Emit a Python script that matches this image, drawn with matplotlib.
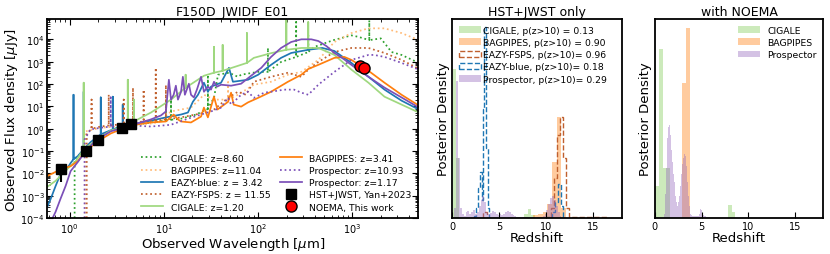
import matplotlib.pyplot as plt
from matplotlib.ticker import LogLocator, NullFormatter
from matplotlib.patches import Patch
import numpy as np

# SED model curves: (wavelength [um], flux [uJy])
# emission lines are written as (lam, cont), (lam, peak), (lam, cont)
cigale_hz = [(1.13, 1e-4), (1.13, 0.043), (1.22, 0.059), (1.48, 0.12), (1.98, 0.37), (2.73, 0.83),
             (3.49, 1.25), (5.0, 1.5), (7.3, 1.9), (10.5, 2.3), (10.5, 15), (10.5, 2.3), (11.9, 2.5),
             (11.9, 20), (11.9, 2.5), (15.2, 2.8), (22, 4.3), (28, 7.2), (29.3, 7.5), (29.3, 210),
             (29.3, 8), (34, 24), (37.5, 260), (49, 320), (61, 210), (66, 260), (100, 350), (127, 350),
             (127, 4100), (127, 350), (175, 970), (253, 1630), (253, 5.9e4), (253, 1630), (340, 2700),
             (340, 1.5e4), (340, 2700), (390, 4500), (630, 9200), (975, 1.5e4), (1150, 1.3e4),
             (1510, 9200), (1510, 7e4), (1510, 9200), (2000, 1.1e4), (2600, 2700), (3320, 2000),
             (5060, 880)]
bagpipes_hz = [(1.46, 1e-4), (1.46, 0.75), (2.14, 1.1), (4.45, 1.4), (7.3, 1.7), (9.0, 2.0), (11.9, 5.9),
               (19.4, 8.8), (26.6, 33), (34, 20), (48, 20), (48, 120), (48, 20), (61, 33), (90, 93),
               (137, 126), (207, 260), (287, 350), (435, 1200), (644, 7600), (975, 1.9e4),
               (1480, 3.1e4), (2190, 3.1e4), (3320, 1.9e4), (5060, 9200)]
eazy_blue = [(0.58, 3.2e-4), (0.63, 7.2e-4), (0.71, 2.7e-3), (0.80, 9.3e-3), (0.84, 0.019), (0.906, 0.0126),
             (1.025, 0.029), (1.1, 0.043), (1.1, 33), (1.1, 0.043), (1.22, 0.059), (1.41, 0.12),
             (1.41, 45), (1.41, 0.12), (1.67, 0.25), (2.14, 0.56), (2.14, 25), (2.14, 0.56), (2.87, 0.93),
             (2.87, 27), (2.87, 0.93), (3.66, 1.27), (3.66, 12), (3.66, 1.27), (5.0, 1.7), (7.3, 2.3),
             (10.5, 3.2), (15.2, 4.3), (18, 5.3), (20.3, 16), (23, 33), (26.6, 114), (29.3, 45),
             (31.6, 76), (40.4, 114), (49, 530), (54, 126), (78, 155), (100, 260), (137, 720),
             (175, 1480), (224, 2450), (340, 3400), (480, 4100), (644, 3000), (975, 880), (1480, 210),
             (2190, 56), (3320, 18), (5060, 7.2)]
eazy_fsps = [(1.52, 1e-4), (1.52, 0.55), (1.67, 0.93), (1.71, 0.95), (1.71, 20), (1.71, 1.0), (2.14, 1.25),
             (2.6, 1.4), (2.6, 33), (2.6, 1.4), (3.16, 1.5), (3.75, 1.7), (3.75, 20), (3.75, 1.7),
             (4.7, 1.9), (4.7, 68), (4.7, 1.9), (6.1, 2.1), (6.1, 56), (6.1, 2.1), (8.2, 2.3), (8.2, 530),
             (8.2, 2.3), (10.5, 2.6), (10.5, 90), (10.5, 2.6), (15.2, 3.2), (24.8, 4.8), (34, 7.2),
             (48, 24), (61, 45), (74, 33), (90, 126), (137, 210), (207, 320), (287, 210), (340, 440),
             (435, 970), (644, 2700), (975, 4100), (1480, 4100), (2190, 2450), (3320, 1200),
             (5060, 480)]
cigale_lz = [(0.58, 2.5e-3), (0.71, 4.6e-3), (0.95, 0.016), (1.16, 0.035), (1.41, 0.12), (1.41, 114),
             (1.41, 0.12), (1.67, 0.2), (1.98, 0.33), (2.73, 0.83), (3.49, 1.1), (4.14, 1.7), (4.14, 155),
             (4.14, 1.7), (4.8, 2.1), (4.8, 20), (4.8, 2.1), (7.3, 5.3), (11.9, 20), (17, 68), (17, 260),
             (17, 68), (26.6, 234), (34, 320), (34, 4600), (34, 320), (42, 390), (42, 5600), (42, 390),
             (61, 650), (76, 880), (76, 1.9e4), (76, 880), (90, 1480), (137, 2400), (199, 3400),
             (199, 1.2e5), (199, 3400), (287, 4100), (340, 4100), (340, 5.9e4), (340, 4100), (435, 4100),
             (644, 2000), (975, 440), (1480, 114), (2190, 27), (3320, 12), (5060, 5.3)]
bagpipes_lz = [(0.58, 7.6e-3), (0.80, 0.015), (1.025, 0.021), (1.22, 0.035), (1.48, 0.098), (1.98, 0.27),
               (2.73, 0.61), (3.49, 0.93), (4.8, 1.5), (7.3, 1.9), (10.5, 2.1), (12.7, 4.3), (14.1, 2.6),
               (15.2, 2.1), (19.4, 1.9), (24.8, 3.5), (26.6, 8.8), (29.3, 3.2), (34, 27), (37, 7.2),
               (48, 16), (51.6, 41), (55, 12), (66, 9.7), (78, 15), (100, 24), (137, 45), (207, 126),
               (287, 260), (340, 470), (435, 720), (644, 1480), (820, 1630), (975, 1200), (1480, 390),
               (2190, 114), (3320, 33), (5060, 10.8)]
prosp_hz = [(1.44, 1e-4), (1.44, 0.33), (1.67, 0.93), (2.14, 1.1), (2.73, 1.25), (2.73, 25), (2.73, 1.25),
            (4.45, 1.4), (7.3, 1.25), (11.9, 1.5), (18, 2.8), (24.8, 4.3), (31.6, 5.9), (40.4, 8.8),
            (48, 24), (51.6, 12), (66, 33), (78, 45), (90, 24), (116, 41), (137, 45), (189, 56),
            (240, 56), (287, 41), (340, 33), (435, 93), (644, 350), (975, 1200), (1480, 2000),
            (1700, 2000), (2190, 1630), (3320, 880), (5060, 440)]
prosp_lz = [(0.66, 1e-4), (0.71, 1.9e-4), (0.80, 7.2e-4), (0.906, 2.7e-3), (1.025, 0.0126), (1.22, 0.032),
            (1.48, 0.098), (1.89, 0.30), (2.73, 0.76), (4.45, 1.4), (7.28, 2.6), (9.3, 3.9), (10.5, 5.9),
            (11.3, 155), (11.9, 20), (12.7, 33), (13.4, 84), (14.1, 20), (15.2, 45), (15.9, 210),
            (16.7, 33), (17.5, 56), (18.4, 103), (19.4, 33), (20.8, 25), (22.4, 56), (24.8, 210),
            (26.6, 45), (29.3, 76), (31.6, 56), (34, 126), (36.6, 76), (40.4, 93), (51.6, 84),
            (65.9, 103), (84.2, 234), (108, 530), (137, 1630), (175, 4100), (224, 7600), (287, 1.0e4),
            (366, 1.0e4), (435, 8400), (529, 5000), (644, 2450), (803, 1330), (975, 720), (1190, 390),
            (1480, 210), (2190, 69), (3320, 25), (5060, 8.8)]

# photometry
hst_lam = [0.81, 1.50, 2.0, 3.56, 4.44]
hst_flux = [0.015, 0.105, 0.32, 1.1, 1.67]
hst_err = [0.011, 0.01, 0.02, 0.06, 0.08]
noema_lam = [1190, 1340]
noema_flux = [650, 530]

# redshift posteriors (bin edges, heights) -- HST+JWST only
p1_cigale_edges = [0.05, 0.4, 0.75, 7.6, 8.0, 8.4, 8.8, 10.0, 10.4]
p1_cigale_vals = [0.75, 0.30, 0.0, 0.02, 0.045, 0.015, 0.0, 0.01]
p1_bagpipes_edges = [8.6, 9.1, 9.6, 10.1, 10.6, 11.1, 11.6, 12.1]
p1_bagpipes_vals = [0.015, 0.02, 0.03, 0.07, 0.28, 0.51, 0.05]
p1_fsps_edges = [3.3, 3.7, 10.5, 10.8, 11.1, 11.4, 11.8, 12.1, 12.4, 16.5]
p1_fsps_vals = [0.03, 0.0, 0.05, 0.2, 0.42, 0.51, 0.3, 0.05, 0.005]
p1_blue_edges = [2.3, 2.5, 2.7, 2.9, 3.1, 3.25, 3.35, 3.6, 3.75, 3.9, 10.6, 10.9, 11.2, 11.5, 11.8]
p1_blue_vals = [0.01, 0.05, 0.15, 0.23, 0.09, 0.55, 0.96, 0.35, 0.05, 0.0, 0.03, 0.08, 0.17, 0.06]
p1_prosp_edges = np.arange(0, 12.01, 0.2)
p1_prosp_vals = [0.0, 0.05, 0.69, 0.30, 0.05, 0.02, 0.01, 0.03, 0.035, 0.02,
                 0.03, 0.04, 0.02, 0.03, 0.06, 0.09, 0.11, 0.08, 0.03, 0.02,
                 0.025, 0.035, 0.03, 0.02, 0.015, 0.02, 0.015, 0.02, 0.03, 0.035,
                 0.03, 0.02, 0.015, 0.01, 0.005, 0.005, 0.005, 0.005, 0.005, 0.005,
                 0.005, 0.005, 0.005, 0.005, 0.005, 0.005, 0.005, 0.005, 0.01, 0.02,
                 0.04, 0.07, 0.10, 0.11, 0.09, 0.06, 0.03, 0.01, 0.0, 0.0]

# with NOEMA
p2_cigale_edges = [0.0, 0.47, 0.9, 1.6, 7.8, 8.2, 8.6]
p2_cigale_vals = [0.16, 0.85, 0.25, 0.0, 0.065, 0.03]
p2_bagpipes_edges = [2.85, 3.33, 3.8]
p2_bagpipes_vals = [0.68, 0.955]
p2_prosp_edges = np.arange(1.0, 6.01, 0.1)
p2_prosp_vals = [0.02, 0.12, 0.25, 0.40, 0.46, 0.47, 0.42, 0.34, 0.28, 0.22,
                 0.18, 0.14, 0.11, 0.08, 0.06, 0.08, 0.11, 0.16, 0.22, 0.27,
                 0.30, 0.32, 0.31, 0.26, 0.18, 0.11, 0.06, 0.035, 0.02, 0.015,
                 0.01, 0.01, 0.008, 0.008, 0.01, 0.01, 0.008, 0.02, 0.045, 0.04,
                 0.02, 0.015, 0.012, 0.01, 0.008, 0.006, 0.005, 0.004, 0.003, 0.002]

c_green = '#2ca02c'
c_lgreen = '#9fd87f'
c_fgreen = '#8fd16a'
c_orange = '#ff7f0e'
c_lorange = '#ffbb78'
c_blue = '#1f77b4'
c_brown = '#c0602e'
c_purple = '#7b4fb8'

fig = plt.figure(figsize=(8.3, 2.55), dpi=100)
ax1 = fig.add_axes([0.057, 0.141, 0.447, 0.780])
ax2 = fig.add_axes([0.545, 0.141, 0.204, 0.780])
ax3 = fig.add_axes([0.789, 0.141, 0.203, 0.780])


def xy(curve):
    return [p[0] for p in curve], [p[1] for p in curve]


lw = 1.25
h = []
h += ax1.plot(*xy(cigale_hz), ls=':', color=c_green, lw=lw, label='CIGALE: z=8.60')
h += ax1.plot(*xy(bagpipes_hz), ls=':', color=c_lorange, lw=lw, label='BAGPIPES: z=11.04')
h += ax1.plot(*xy(eazy_blue), ls='-', color=c_blue, lw=lw, label='EAZY-blue: z = 3.42')
h += ax1.plot(*xy(eazy_fsps), ls=':', color=c_brown, lw=lw, label='EAZY-FSPS: z = 11.55')
h += ax1.plot(*xy(cigale_lz), ls='-', color=c_lgreen, lw=lw, label='CIGALE: z=1.20')
h += ax1.plot(*xy(bagpipes_lz), ls='-', color=c_orange, lw=lw, label='BAGPIPES: z=3.41')
h += ax1.plot(*xy(prosp_hz), ls=':', color=c_purple, lw=lw, label='Prospector: z=10.93')
h += ax1.plot(*xy(prosp_lz), ls='-', color=c_purple, lw=lw, label='Prospector: z=1.17')
eb = ax1.errorbar(hst_lam, hst_flux, yerr=hst_err, fmt='s', color='k', ms=7, zorder=5,
                  label='HST+JWST, Yan+2023')
nm, = ax1.plot(noema_lam, noema_flux, 'o', mfc='red', mec='k', ms=8, zorder=6, label='NOEMA, This work')
h += [eb, nm]

ax1.set_xscale('log')
ax1.set_yscale('log')
ax1.set_xlim(0.58, 5000)
ax1.set_ylim(1e-4, 8e4)
ax1.yaxis.set_major_locator(LogLocator(base=10, numticks=20))
ax1.yaxis.set_minor_locator(LogLocator(base=10, subs=np.arange(2, 10), numticks=20))
ax1.yaxis.set_minor_formatter(NullFormatter())
ax1.tick_params(which='both', direction='in', top=True, right=True, labelsize=7, pad=2)
ax1.tick_params(which='major', length=4)
ax1.tick_params(which='minor', length=2)
ax1.set_xlabel(r'Observed Wavelength [$\mu$m]', fontsize=9.5, labelpad=0)
ax1.set_ylabel(r'Observed Flux density [$\mu$Jy]', fontsize=9.5, labelpad=0)
ax1.set_title('F150D_JWIDF_E01', fontsize=9, pad=3)
ax1.legend(handles=h, ncol=2, loc='lower right', fontsize=6.7, frameon=False, labelspacing=0.35,
           handlelength=2.4, columnspacing=1.0, borderaxespad=0.3)

# posteriors, HST+JWST only
a = 0.4
ax2.stairs(p1_cigale_vals, p1_cigale_edges, fill=True, color=c_fgreen, alpha=0.45)
ax2.stairs(p1_bagpipes_vals, p1_bagpipes_edges, fill=True, color=c_orange, alpha=a)
ax2.stairs(p1_fsps_vals, p1_fsps_edges, baseline=0, color=c_brown, ls='--', lw=1)
ax2.stairs(p1_blue_vals, p1_blue_edges, baseline=0, color=c_blue, ls='--', lw=1)
ax2.stairs(p1_prosp_vals, p1_prosp_edges, fill=True, color='#9467bd', alpha=a)
h2 = [Patch(facecolor=c_fgreen, alpha=0.45, label='CIGALE, p(z>10) = 0.13'),
      Patch(facecolor=c_orange, alpha=a, label='BAGPIPES, p(z>10) = 0.90'),
      Patch(fill=False, edgecolor=c_brown, ls='--', lw=1, label='EAZY-FSPS, p(z>10)= 0.96'),
      Patch(fill=False, edgecolor=c_blue, ls='--', lw=1, label='EAZY-blue, p(z>10)= 0.18'),
      Patch(facecolor='#9467bd', alpha=a, label='Prospector, p(z>10)= 0.29')]
ax2.set_title('HST+JWST only', fontsize=9, pad=3)
ax2.legend(handles=h2, loc='upper left', fontsize=6.7, frameon=False, handlelength=2.4,
           handletextpad=0.2, labelspacing=0.35, borderaxespad=0.3)

# with NOEMA
ax3.stairs(p2_cigale_vals, p2_cigale_edges, fill=True, color=c_fgreen, alpha=0.45, label='CIGALE')
ax3.stairs(p2_bagpipes_vals, p2_bagpipes_edges, fill=True, color=c_orange, alpha=a, label='BAGPIPES')
ax3.stairs(p2_prosp_vals, p2_prosp_edges, fill=True, color='#9467bd', alpha=a, label='Prospector')
ax3.set_title('with NOEMA', fontsize=9, pad=3)
ax3.legend(loc='upper right', fontsize=6.7, frameon=False, handlelength=2.4, labelspacing=0.35,
           borderaxespad=0.3)

for ax in (ax2, ax3):
    ax.set_xlim(0, 18)
    ax.set_ylim(0, 1.0)
    ax.set_yticks([])
    ax.set_xticks([0, 5, 10, 15])
    ax.tick_params(direction='in', labelsize=7, length=4, pad=2)
    ax.set_xlabel('Redshift', fontsize=9.5, labelpad=0)
    ax.set_ylabel('Posterior Density', fontsize=9.5, labelpad=2)

for ax in (ax1, ax2, ax3):
    for s in ax.spines.values():
        s.set_linewidth(1.3)

fig.savefig('out.png', dpi=100)
